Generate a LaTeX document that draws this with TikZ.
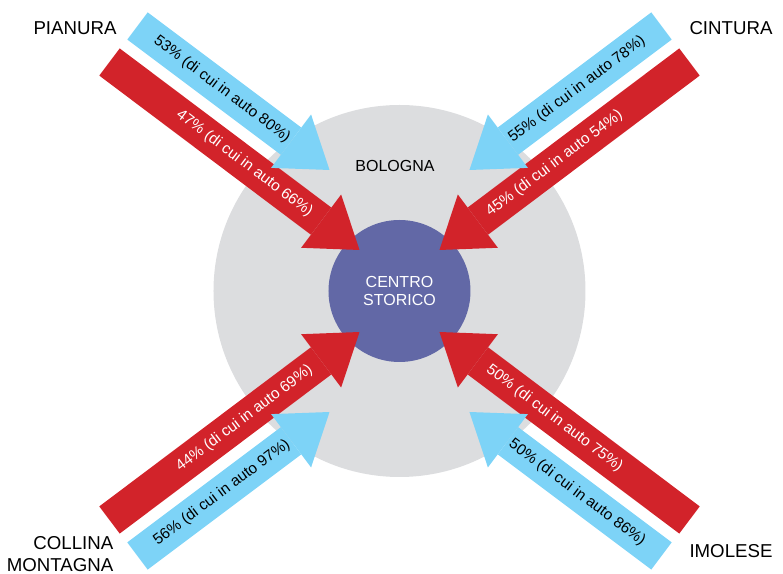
\documentclass[tikz,border=0pt]{standalone}
\usepackage{fontspec}
\setmainfont{Liberation Sans}
\usetikzlibrary{arrows.meta}
\definecolor{flowred}{RGB}{210,35,42}
\definecolor{flowblue}{RGB}{125,211,247}
\definecolor{citygrey}{RGB}{220,221,223}
\definecolor{centreblue}{RGB}{98,104,166}
\begin{document}
\begin{tikzpicture}
  [x=0.75pt,y=0.75pt,
   flow/.style={line width=25.5pt,-{Triangle[length=36pt,width=50pt,line width=0pt]}},
   redflow/.style={flow,draw=flowred,every node/.style={text=white,font=\fontsize{11.5}{13}\selectfont}},
   blueflow/.style={flow,draw=flowblue,every node/.style={text=black,font=\fontsize{11.5}{13}\selectfont}},
   area/.style={font=\fontsize{14}{17}\selectfont}]
  \useasboundingbox (-399.5,-283) rectangle (383.5,291);
  \node[circle,fill=citygrey,minimum size=279pt,inner sep=0pt] (bologna) at (0,0) {};
  \node[circle,fill=centreblue,minimum size=106.5pt,inner sep=0pt,text=white,align=center,
        font=\fontsize{12}{13.5}\selectfont] (centro) at (0,0) {CENTRO\\STORICO};
  \node[font=\fontsize{12}{14}\selectfont] (bolognatxt) at (-4.5,125) {BOLOGNA};
  % tails and tips of the flows
  \coordinate (pianR) at (-290,229);  \coordinate (pianRend) at (-40,41);
  \coordinate (pianB) at (-262,265);  \coordinate (pianBend) at (-70,121);
  \coordinate (cintR) at (290,229);   \coordinate (cintRend) at (40,41);
  \coordinate (cintB) at (262,265);   \coordinate (cintBend) at (70,121);
  \coordinate (collR) at (-290,-229); \coordinate (collRend) at (-40,-41);
  \coordinate (collB) at (-262,-265); \coordinate (collBend) at (-70,-121);
  \coordinate (imolR) at (290,-229);  \coordinate (imolRend) at (40,-41);
  \coordinate (imolB) at (262,-265);  \coordinate (imolBend) at (70,-121);
  \foreach \source/\dest/\kind/\pos/\perc in
    {pianR/pianRend/red/.54/{47\% (di cui in auto 66\%)},
     pianB/pianBend/blue/.44/{53\% (di cui in auto 80\%)},
     cintR/cintRend/red/.54/{45\% (di cui in auto 54\%)},
     cintB/cintBend/blue/.44/{55\% (di cui in auto 78\%)},
     collR/collRend/red/.54/{44\% (di cui in auto 69\%)},
     collB/collBend/blue/.44/{56\% (di cui in auto 97\%)},
     imolR/imolRend/red/.54/{50\% (di cui in auto 75\%)},
     imolB/imolBend/blue/.44/{50\% (di cui in auto 86\%)}}
   \draw[\kind flow] (\source) -- node[pos=\pos,sloped] {\perc} (\dest);
  \node[area] (pianura) at (-324.5,263) {PIANURA};
  \node[area] (cintura) at (331.5,263) {CINTURA};
  \node[area,align=right,anchor=east] (collina) at (-281.5,-263) {COLLINA\\MONTAGNA};
  \node[area] (imolese) at (331.5,-260) {IMOLESE};
\end{tikzpicture}
\end{document}
